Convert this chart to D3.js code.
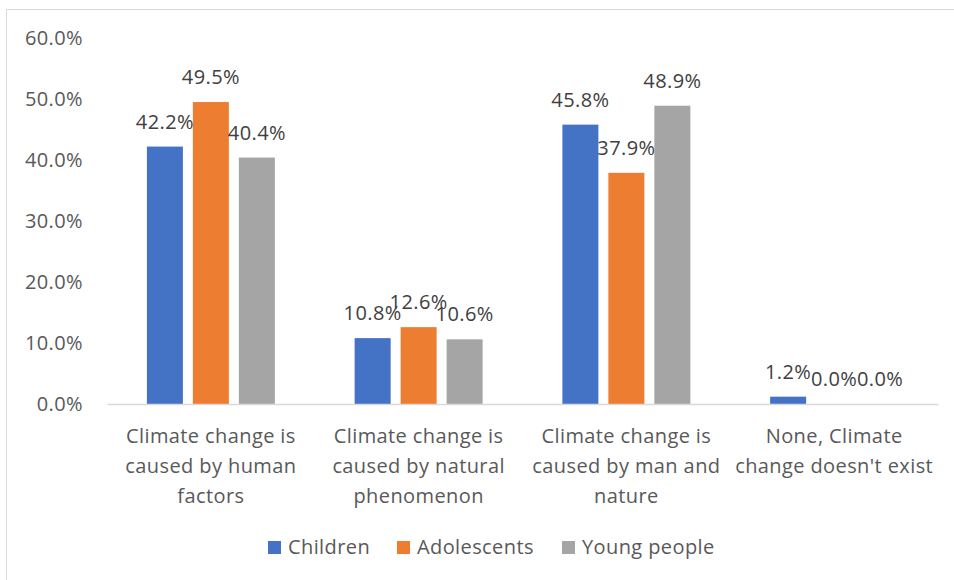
<!DOCTYPE html>
<html>
<head>
<meta charset="utf-8">
<script src="https://cdn.jsdelivr.net/npm/d3@7/dist/d3.min.js"></script>
<style>
  html, body { margin: 0; padding: 0; background: #fff; }
  svg { display: block; font-family: "Open Sans", "Noto Sans", sans-serif; }
  svg text { letter-spacing: 0.4px; }
</style>
</head>
<body>
<svg id="chart" width="954" height="580"></svg>
<script>
// Survey responses: perceived cause of climate change, by age group (%)
const categories = [
  "Climate change is\ncaused by human\nfactors",
  "Climate change is\ncaused by natural\nphenomenon",
  "Climate change is\ncaused by man and\nnature",
  "None, Climate\nchange doesn't exist"
];
const seriesNames = ["Children", "Adolescents", "Young people"];
const children    = [42.2, 10.8, 45.8, 1.2];
const adolescents = [49.5, 12.6, 37.9, 0.0];
const youngPeople = [40.4, 10.6, 48.9, 0.0];
const yTicks = [0, 10, 20, 30, 40, 50, 60];

const seriesValues = [children, adolescents, youngPeople];
const colors = ["#4472C4", "#ED7D31", "#A5A5A5"];

const svg = d3.select("#chart");

// chart area frame (only the top and left edges fall inside the view)
svg.append("rect")
  .attr("x", 6.5).attr("y", 9.5)
  .attr("width", 1000).attr("height", 1000)
  .attr("fill", "none")
  .attr("stroke", "#D9D9D9")
  .attr("stroke-width", 1);

const plot = { left: 107, right: 938, top: 38, bottom: 404 };

const x0 = d3.scaleBand()
  .domain(d3.range(categories.length))
  .range([plot.left, plot.right])
  .paddingInner(0.384)
  .paddingOuter(0.192);

const x1 = d3.scaleBand()
  .domain(d3.range(seriesNames.length))
  .range([0, x0.bandwidth()])
  .paddingInner(0.217)
  .paddingOuter(0);

const y = d3.scaleLinear()
  .domain([0, 60])
  .range([plot.bottom, plot.top]);

const fmt = v => d3.format(".1f")(v) + "%";

// y axis labels (no axis line, no gridlines)
const yAxis = d3.axisLeft(y)
  .tickValues(yTicks)
  .tickFormat(fmt)
  .tickSize(0)
  .tickPadding(0);

const yg = svg.append("g")
  .attr("transform", `translate(83,0)`)
  .call(yAxis);
yg.select(".domain").remove();
yg.selectAll("text")
  .attr("fill", "#595959")
  .style("font-size", "20px")
  .style("font-family", "'Open Sans', sans-serif");

// bars
const groups = svg.append("g")
  .selectAll("g")
  .data(categories.map((c, i) => i))
  .join("g")
  .attr("transform", i => `translate(${x0(i)},0)`);

groups.selectAll("rect")
  .data(i => seriesValues.map((vals, s) => ({ s, v: vals[i] })))
  .join("rect")
  .attr("x", d => x1(d.s))
  .attr("y", d => y(d.v))
  .attr("width", x1.bandwidth())
  .attr("height", d => y(0) - y(d.v))
  .attr("fill", d => colors[d.s]);

// value labels
groups.selectAll("text.val")
  .data(i => seriesValues.map((vals, s) => ({ s, v: vals[i] })))
  .join("text")
  .attr("class", "val")
  .attr("x", d => x1(d.s) + x1.bandwidth() / 2)
  .attr("y", d => y(d.v) - 18)
  .attr("text-anchor", "middle")
  .attr("fill", "#404040")
  .style("font-size", "20px")
  .text(d => fmt(d.v));

// x axis baseline
const xAxis = d3.axisBottom(x0)
  .tickSize(0)
  .tickFormat("");
const xg = svg.append("g")
  .attr("transform", `translate(0,${plot.bottom})`)
  .call(xAxis);
xg.select(".domain")
  .attr("stroke", "#D9D9D9")
  .attr("stroke-width", 1.5);

// category labels, one tspan per line
const catLabels = svg.append("g")
  .selectAll("text")
  .data(categories.map((c, i) => ({ i, lines: c.split("\n") })))
  .join("text")
  .attr("text-anchor", "middle")
  .attr("fill", "#595959")
  .style("font-size", "20px")
  .attr("transform", d => `translate(${x0(d.i) + x0.bandwidth() / 2},443)`);
catLabels.selectAll("tspan")
  .data(d => d.lines)
  .join("tspan")
  .attr("x", 0)
  .attr("y", (l, k) => k * 30)
  .text(l => l);

// legend
const legendX = [268, 397, 562];
const legend = svg.append("g")
  .selectAll("g")
  .data(seriesNames.map((n, s) => ({ n, s })))
  .join("g")
  .attr("transform", d => `translate(${legendX[d.s]},541)`);
legend.append("rect")
  .attr("width", 13).attr("height", 13)
  .attr("fill", d => colors[d.s]);
legend.append("text")
  .attr("x", 20).attr("y", 13)
  .attr("fill", "#595959")
  .style("font-size", "20px")
  .text(d => d.n);
</script>
</body>
</html>
